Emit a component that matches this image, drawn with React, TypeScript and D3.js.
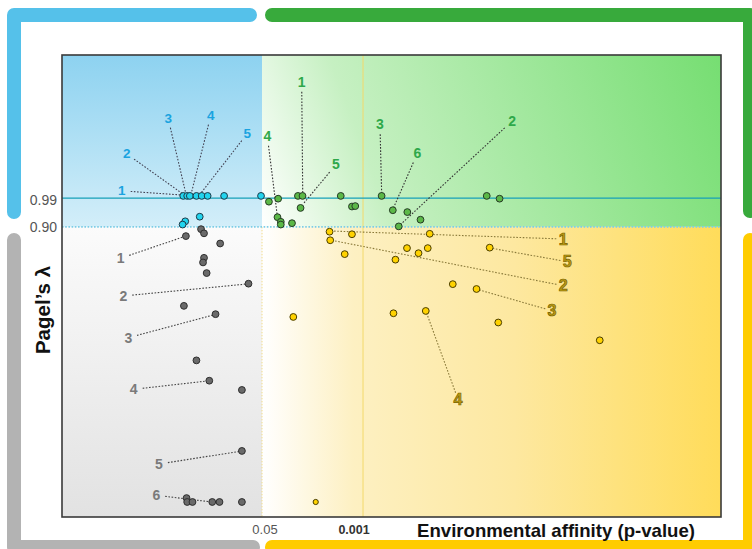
import React from "react";
import * as d3 from "d3";

const W = 752;
const H = 549;
const PLOT = { left: 62, right: 721, top: 55, bottom: 517 };

// axis ticks (abstract positions on 0-100 scales)
const X_TICK_VALUES = [30.35, 45.68];
const X_TICK_LABELS = ["0.05", "0.001"];
const Y_TICK_VALUES = [69.0, 62.8];
const Y_TICK_LABELS = ["0.99", "0.90"];

const X_TITLE = "Environmental affinity (p-value)";
const Y_TITLE = "Pagel\u2019s \u03bb";

// points: [affinity, lambda-rank]
const bluePoints: [number, number][] = [
  [18.4, 69.5], [19.0, 69.5], [19.4, 69.5], [20.4, 69.5], [21.2, 69.5],
  [22.1, 69.5], [24.6, 69.5], [30.2, 69.5], [20.9, 65.0], [18.7, 64.0], [18.3, 63.3],
];

const greenPoints: [number, number][] = [
  [31.4, 68.25], [32.8, 68.9], [35.8, 69.5], [36.5, 69.5], [42.3, 69.5],
  [32.7, 64.9], [33.2, 63.9], [33.2, 63.3], [34.9, 63.6], [36.2, 66.9],
  [44.0, 67.2], [44.5, 67.3], [48.5, 69.5], [50.2, 66.4], [52.4, 66.0],
  [54.4, 64.35], [51.1, 62.9], [64.45, 69.5], [66.4, 68.9],
];

const yellowPoints: [number, number][] = [
  [40.6, 61.75], [44.0, 61.2], [55.8, 61.3], [40.7, 59.9], [52.35, 58.2],
  [54.1, 57.1], [55.5, 58.2], [64.9, 58.3], [42.9, 56.9], [50.6, 55.7],
  [59.3, 50.4], [62.9, 49.35], [35.1, 43.3], [50.3, 44.1], [55.2, 44.6],
  [66.2, 42.1], [81.6, 38.25], [38.5, 3.25],
];

const grayPoints: [number, number][] = [
  [18.8, 60.8], [21.1, 62.3], [21.55, 61.4], [24.0, 59.2], [21.55, 56.1],
  [21.4, 55.1], [21.95, 52.8], [28.3, 50.5], [18.5, 45.7], [23.3, 43.9],
  [20.4, 33.9], [22.35, 29.5], [27.3, 27.5], [27.3, 14.3], [18.9, 4.1],
  [19.0, 3.25], [19.8, 3.25], [22.8, 3.25], [23.9, 3.25], [27.3, 3.25],
];

// labels: [text, labelX, labelY, targetX, targetY]
const blueLabels: [string, number, number, number, number][] = [
  ["1", 9.06, 70.6, 18.16, 69.7],
  ["2", 9.82, 78.6, 18.41, 69.85],
  ["3", 16.13, 86.15, 18.82, 69.85],
  ["4", 22.56, 86.8, 19.58, 69.85],
  ["5", 28.12, 83.0, 20.94, 69.85],
];

const greenLabels: [string, number, number, number, number][] = [
  ["1", 36.37, 94.2, 36.53, 69.85],
  ["4", 31.15, 82.5, 32.67, 65.2],
  ["5", 41.58, 76.3, 36.72, 67.97],
  ["3", 48.25, 85.0, 48.51, 69.85],
  ["6", 53.92, 78.7, 50.27, 66.8],
  ["2", 68.29, 85.7, 51.29, 63.2],
];

const yellowLabels: [string, number, number, number, number][] = [
  ["1", 76.07, 60.17, 40.87, 61.9],
  ["5", 76.68, 55.26, 65.2, 58.16],
  ["2", 76.07, 50.06, 40.93, 59.89],
  ["3", 74.36, 44.65, 63.17, 49.2],
  ["4", 60.09, 25.48, 55.34, 44.09],
];

const grayLabels: [string, number, number, number, number][] = [
  ["1", 8.91, 56.0, 18.51, 60.67],
  ["2", 9.3, 47.84, 28.03, 50.43],
  ["3", 10.06, 38.81, 22.96, 43.72],
  ["4", 10.88, 27.64, 22.05, 29.44],
  ["5", 14.72, 11.47, 27.01, 14.22],
  ["6", 14.31, 4.7, 22.72, 3.25],
];

const FONT = "'Liberation Sans', Arial, Helvetica, sans-serif";

type Lab = [string, number, number, number, number];

export default function App() {
  const x = d3.scaleLinear().domain([0, 100]).range([PLOT.left, PLOT.right]);
  const y = d3.scaleLinear().domain([0, 100]).range([PLOT.bottom, PLOT.top]);

  const xSplit = x(X_TICK_VALUES[0]);
  const xMid = x(X_TICK_VALUES[1]);
  const y99 = y(Y_TICK_VALUES[0]);
  const y90 = y(Y_TICK_VALUES[1]);

  const renderPoints = (pts: [number, number][], fill: string, stroke: string, r = 3.4) =>
    pts.map((p, i) => (
      <circle key={i} cx={x(p[0])} cy={y(p[1])} r={r} fill={fill} stroke={stroke} strokeWidth={1} />
    ));

  const renderLabels = (
    labs: Lab[],
    color: string,
    lineColor: string,
    size: number,
    gap: number,
    outline?: string
  ) =>
    labs.map((l, i) => {
      const lx = x(l[1]);
      const ly = y(l[2]);
      const tx = x(l[3]);
      const ty = y(l[4]);
      const dx = tx - lx;
      const dy = ty - ly;
      const len = Math.hypot(dx, dy) || 1;
      const sx = lx + (dx / len) * gap;
      const sy = ly + (dy / len) * gap;
      return (
        <g key={i}>
          <line x1={sx} y1={sy} x2={tx} y2={ty} stroke={lineColor} strokeWidth={1.1} strokeDasharray="1.6,1.6" />
          <text
            x={lx}
            y={ly}
            textAnchor="middle"
            dominantBaseline="central"
            fontFamily={FONT}
            fontWeight="bold"
            fontSize={size}
            fill={color}
            stroke={outline || "none"}
            strokeWidth={outline ? 0.7 : 0}
          >
            {l[0]}
          </text>
        </g>
      );
    });

  const bw = 14;
  const bracketBlue = `M14,212 L14,15 L250,15`;
  const bracketGreen = `M272,15 L750,15 L750,211`;
  const bracketGray = `M14,240 L14,547 L253,547`;
  const bracketYellow = `M272,547 L750,547 L750,240`;

  return (
    <svg
      width={W}
      height={H}
      style={{ position: "absolute", left: 0, top: 0, display: "block", background: "#fff" }}
    >
      <defs>
        <linearGradient id="gBlue" x1="0" y1="0" x2="0" y2="1">
          <stop offset="0" stopColor="#8dd2f0" />
          <stop offset="1" stopColor="#d3eef9" />
        </linearGradient>
        <linearGradient
          id="gGreen"
          gradientUnits="userSpaceOnUse"
          x1={xSplit}
          y1={y90}
          x2={PLOT.right}
          y2={PLOT.top}
        >
          <stop offset="0" stopColor="#ffffff" />
          <stop offset="0.25" stopColor="#c6f0c2" />
          <stop offset="1" stopColor="#76de72" />
        </linearGradient>
        <linearGradient id="gGray" x1="0" y1="0" x2="0" y2="1">
          <stop offset="0" stopColor="#fbfbfb" />
          <stop offset="1" stopColor="#e2e2e2" />
        </linearGradient>
        <linearGradient id="gYellow" gradientUnits="userSpaceOnUse" x1={xSplit} y1={0} x2={PLOT.right} y2={0}>
          <stop offset="0" stopColor="#ffffff" />
          <stop offset="0.2" stopColor="#fdf0c2" />
          <stop offset="0.55" stopColor="#fde8a0" />
          <stop offset="1" stopColor="#ffdc5a" />
        </linearGradient>
      </defs>

      {/* outer brackets */}
      <path d={bracketBlue} fill="none" stroke="#55c1ea" strokeWidth={bw} strokeLinecap="round" strokeLinejoin="round" />
      <path d={bracketGreen} fill="none" stroke="#38aa3c" strokeWidth={bw} strokeLinecap="round" strokeLinejoin="round" />
      <path d={bracketGray} fill="none" stroke="#b3b3b3" strokeWidth={bw} strokeLinecap="round" strokeLinejoin="round" />
      <path d={bracketYellow} fill="none" stroke="#ffcc00" strokeWidth={bw} strokeLinecap="round" strokeLinejoin="round" />

      {/* quadrants */}
      <rect x={PLOT.left} y={PLOT.top} width={xSplit - PLOT.left} height={y90 - PLOT.top} fill="url(#gBlue)" />
      <rect x={xSplit} y={PLOT.top} width={PLOT.right - xSplit} height={y90 - PLOT.top} fill="url(#gGreen)" />
      <rect x={PLOT.left} y={y90} width={xSplit - PLOT.left} height={PLOT.bottom - y90} fill="url(#gGray)" />
      <rect x={xSplit} y={y90} width={PLOT.right - xSplit} height={PLOT.bottom - y90} fill="url(#gYellow)" />

      {/* reference lines */}
      <line x1={xSplit} x2={xSplit} y1={y90} y2={PLOT.bottom} stroke="#f2dc8a" strokeWidth={1} strokeDasharray="1.5,1.5" />
      <line x1={xMid} x2={xMid} y1={PLOT.top} y2={PLOT.bottom} stroke="#f3d96a" strokeWidth={1} />
      <line x1={PLOT.left} x2={PLOT.right} y1={y99} y2={y99} stroke="#16a0b8" strokeWidth={1.3} />
      <line x1={PLOT.left} x2={PLOT.right} y1={y90} y2={y90} stroke="#7ecde6" strokeWidth={1.6} strokeDasharray="1.6,1.6" />

      {/* leaders and labels */}
      {renderLabels(grayLabels, "#7a7a7a", "#444", 14, 9)}
      {renderLabels(blueLabels, "#1aa3e0", "#445", 13.5, 9)}
      {renderLabels(greenLabels, "#2ea84a", "#333", 14, 10)}
      {renderLabels(yellowLabels, "#bc9c14", "#8a7a3a", 16, 7, "#786200")}

      {/* points */}
      {renderPoints(grayPoints, "#6a6a6a", "#2e2e2e")}
      {renderPoints(yellowPoints.slice(0, -1), "#ffd200", "#4a3e00")}
      {renderPoints(yellowPoints.slice(-1), "#ffd200", "#4a3e00", 2.6)}
      {renderPoints(greenPoints, "#5bb847", "#263a26")}
      {renderPoints(bluePoints, "#22d4ee", "#1d3a48")}

      {/* frame */}
      <rect
        x={PLOT.left}
        y={PLOT.top}
        width={PLOT.right - PLOT.left}
        height={PLOT.bottom - PLOT.top}
        fill="none"
        stroke="#3a3a3a"
        strokeWidth={1.6}
      />

      {/* y ticks */}
      {Y_TICK_VALUES.map((v, i) => (
        <text
          key={i}
          x={PLOT.left - 5}
          y={y(v) + (i === 0 ? 2 : 0)}
          textAnchor="end"
          dominantBaseline="central"
          fontFamily={FONT}
          fontSize={14}
          fill="#555"
        >
          {Y_TICK_LABELS[i]}
        </text>
      ))}
      {/* x ticks */}
      {X_TICK_VALUES.map((v, i) => (
        <text
          key={i}
          x={x(v) + (i === 0 ? 3 : -9)}
          y={534}
          textAnchor="middle"
          fontFamily={FONT}
          fontSize={i === 0 ? 13 : 12.5}
          fontWeight={i === 0 ? "normal" : "bold"}
          fill={i === 0 ? "#555" : "#333"}
        >
          {X_TICK_LABELS[i]}
        </text>
      ))}

      <text x={556} y={537} textAnchor="middle" fontFamily={FONT} fontWeight="bold" fontSize={18.6} fill="#111">
        {X_TITLE}
      </text>
      <text
        transform={`translate(50,310) rotate(-90)`}
        textAnchor="middle"
        fontFamily={FONT}
        fontWeight="bold"
        fontSize={20.5}
        fill="#111"
      >
        {Y_TITLE}
      </text>
    </svg>
  );
}
